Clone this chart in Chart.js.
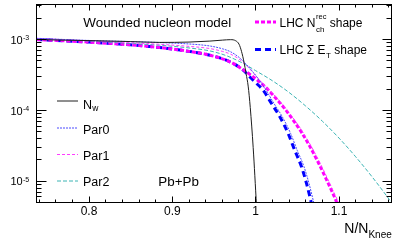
<!DOCTYPE html>
<html>
<head>
<meta charset="utf-8">
<script src="https://cdn.jsdelivr.net/npm/chart.js@4.4.1/dist/chart.umd.min.js"></script>
<style>
  html, body { margin: 0; padding: 0; background: #fff; }
  #plot { display: block; }
</style>
</head>
<body>
<canvas id="plot" width="399" height="243"></canvas>
<script>
// ── Data ──
const nwX = [0.737, 0.76, 0.80, 0.85, 0.885, 0.92, 0.945, 0.96, 0.970, 0.976, 0.980, 0.983, 0.986, 0.9885, 0.991, 0.9935, 0.997, 1.001];
const nwY = [1.0e-3, 9.85e-4, 9.65e-4, 9.35e-4, 9.1e-4, 9.2e-4, 9.5e-4, 9.8e-4, 9.95e-4, 9.6e-4, 8.6e-4, 6.8e-4, 4.8e-4, 3.3e-4, 2.2e-4, 1.1e-4, 3.0e-5, 4.5e-6];

const par0X = [0.737, 0.80, 0.85, 0.885, 0.92, 0.945, 0.96, 0.97, 0.98, 0.988, 0.997, 1.005, 1.0125, 1.022, 1.032, 1.042, 1.050, 1.058, 1.064, 1.069, 1.074];
const par0Y = [1.04e-3, 9.7e-4, 9.35e-4, 9.05e-4, 8.65e-4, 8.1e-4, 7.4e-4, 6.7e-4, 5.6e-4, 4.55e-4, 3.45e-4, 2.6e-4, 1.92e-4, 1.25e-4, 8.1e-5, 4.7e-5, 2.7e-5, 1.6e-5, 9.3e-6, 5.4e-6, 3.2e-6];

const par1X = [0.737, 0.80, 0.85, 0.885, 0.92, 0.945, 0.96, 0.97, 0.98, 0.988, 0.997, 1.007, 1.017, 1.027, 1.037, 1.047, 1.057, 1.067, 1.077, 1.087, 1.095, 1.101, 1.106];
const par1Y = [1.03e-3, 9.6e-4, 9.0e-4, 8.55e-4, 8.0e-4, 7.45e-4, 6.8e-4, 6.2e-4, 5.3e-4, 4.4e-4, 3.4e-4, 2.5e-4, 1.9e-4, 1.42e-4, 1.03e-4, 7.2e-5, 4.85e-5, 3.05e-5, 1.83e-5, 1.04e-5, 6.5e-6, 4.6e-6, 3.4e-6];

const par2X = [0.737, 0.80, 0.85, 0.885, 0.92, 0.945, 0.965, 0.985, 1.00, 1.02, 1.04, 1.06, 1.08, 1.10, 1.12, 1.14, 1.16, 1.17];
const par2Y = [1.03e-3, 9.5e-4, 8.8e-4, 8.3e-4, 7.6e-4, 6.9e-4, 5.9e-4, 4.6e-4, 3.63e-4, 2.62e-4, 1.79e-4, 1.15e-4, 7.03e-5, 4.06e-5, 2.21e-5, 1.14e-5, 5.58e-6, 3.82e-6];

const nchX = [0.737, 0.77, 0.80, 0.85, 0.885, 0.92, 0.945, 0.969, 0.985, 0.995, 1.005, 1.015, 1.025, 1.035, 1.045, 1.055, 1.065, 1.075, 1.085, 1.092, 1.098, 1.103];
const nchY = [1.0e-3, 9.6e-4, 9.2e-4, 8.4e-4, 7.7e-4, 6.8e-4, 6.0e-4, 4.85e-4, 3.75e-4, 3.1e-4, 2.5e-4, 1.95e-4, 1.45e-4, 1.05e-4, 7.3e-5, 4.9e-5, 3.1e-5, 1.85e-5, 1.05e-5, 7.0e-6, 4.8e-6, 3.5e-6];

const etX = [0.737, 0.77, 0.80, 0.85, 0.885, 0.92, 0.945, 0.969, 0.985, 0.993, 1.001, 1.009, 1.019, 1.029, 1.039, 1.047, 1.055, 1.061, 1.066, 1.071];
const etY = [1.0e-3, 9.6e-4, 9.2e-4, 8.4e-4, 7.7e-4, 6.8e-4, 6.0e-4, 4.85e-4, 3.7e-4, 2.96e-4, 2.4e-4, 1.92e-4, 1.25e-4, 8.1e-5, 4.7e-5, 2.7e-5, 1.6e-5, 9.3e-6, 5.4e-6, 3.0e-6];

// ── Axes ──
const xRange = [0.737, 1.163];
const yRange = [5e-6, 3.12e-3];
const xMajorTicks = [0.8, 0.9, 1.0, 1.1];
const xTickLabels = ['0.8', '0.9', '1', '1.1'];
const xMinorStep = 0.02;
const yMajorTicks = [1e-5, 1e-4, 1e-3];
const yTickExponents = ['-5', '-4', '-3'];

const FONT = "'Liberation Sans', Arial, Helvetica, sans-serif";

function pts(xs, ys) {
  return xs.map((x, i) => ({ x, y: ys[i] }));
}

function series(label, xs, ys, color, width, dash) {
  return {
    label,
    data: pts(xs, ys),
    borderColor: color,
    borderWidth: width,
    borderDash: dash,
    pointRadius: 0,
    fill: false,
    cubicInterpolationMode: 'monotone',
    clip: 0,
  };
}

const datasets = [
  series('Nw', nwX, nwY, '#1e1e1e', 1, []),
  series('Par0', par0X, par0Y, '#4b4bff', 1, [2, 1]),
  series('Par1', par1X, par1Y, '#ff3cff', 1, [3, 2]),
  series('Par2', par2X, par2Y, '#3cb4b4', 1, [4, 2]),
  series('LHC Nch shape', nchX, nchY, '#ff00ff', 3, [4, 2]),
  series('LHC ET shape', etX, etY, '#0000ff', 3, [6, 4]),
];

function drawText(ctx, str, x, y, size, align) {
  ctx.font = `${size}px ${FONT}`;
  ctx.fillStyle = '#000';
  ctx.textAlign = align || 'left';
  ctx.textBaseline = 'alphabetic';
  ctx.fillText(str, x, y);
  return ctx.measureText(str).width;
}

function sample(ctx, ds, x0, x1, y) {
  ctx.save();
  ctx.strokeStyle = ds.borderColor;
  ctx.lineWidth = ds.borderWidth;
  ctx.setLineDash(ds.borderDash || []);
  ctx.beginPath();
  ctx.moveTo(x0, y);
  ctx.lineTo(x1, y);
  ctx.stroke();
  ctx.restore();
}

function tick(ctx, x0, y0, x1, y1) {
  ctx.beginPath();
  ctx.moveTo(x0, y0);
  ctx.lineTo(x1, y1);
  ctx.stroke();
}

// ── Frame, ticks, labels and legends (ROOT style) ──
const overlay = {
  id: 'overlay',
  afterDraw(chart) {
    const { ctx, chartArea: a } = chart;
    const xs = chart.scales.x, ys = chart.scales.y;
    const L = a.left, R = a.right, T = a.top, B = a.bottom;
    ctx.save();
    ctx.strokeStyle = '#000';
    ctx.lineWidth = 1;
    ctx.setLineDash([]);
    ctx.strokeRect(L, T, R - L, B - T);

    // x ticks, bottom and top, pointing inward
    const first = Math.ceil(xRange[0] / xMinorStep - 1e-9);
    for (let i = first; i * xMinorStep <= xRange[1] + 1e-9; i++) {
      const px = Math.floor(xs.getPixelForValue(i * xMinorStep)) + 0.5;
      const len = i % 5 === 0 ? 6 : 3;
      tick(ctx, px, B, px, B - len);
      tick(ctx, px, T, px, T + len);
    }

    // y ticks (log), left and right
    for (let e = -6; e <= -3; e++) {
      for (let m = 1; m <= 9; m++) {
        const v = m * Math.pow(10, e);
        if (v < yRange[0] || v > yRange[1]) continue;
        const py = Math.floor(ys.getPixelForValue(v)) + 0.5;
        const major = m === 1;
        tick(ctx, L, py, L + (major ? 10 : 5), py);
        tick(ctx, R, py, R - (major ? 9 : 5), py);
      }
    }

    // tick labels
    xMajorTicks.forEach((v, i) => {
      drawText(ctx, xTickLabels[i], xs.getPixelForValue(v), 214.5, 12, 'center');
    });
    yMajorTicks.forEach((v, i) => {
      const py = ys.getPixelForValue(v);
      drawText(ctx, '10', 22.7, py + 4.3, 11, 'right');
      drawText(ctx, yTickExponents[i], 23, py + 0.6, 7);
    });

    // x axis title N/N_Knee
    let w = drawText(ctx, 'N/N', 344.3, 232.7, 14);
    drawText(ctx, 'Knee', 344.3 + w, 238.3, 10);

    // texts
    drawText(ctx, 'Wounded nucleon model', 83.3, 27, 13.4);
    drawText(ctx, 'Pb+Pb', 158.3, 185.7, 13.4);

    // right legend
    sample(ctx, datasets[4], 255, 276, 22);
    let x0 = 279.5;
    w = drawText(ctx, 'LHC N', x0, 27, 12);
    const wr = drawText(ctx, 'rec', x0 + w + 0.5, 18.5, 7.5);
    const wc = drawText(ctx, 'ch', x0 + w + 0.5, 31.5, 8);
    drawText(ctx, ' shape', x0 + w + 0.5 + Math.max(wr, wc), 27, 12);

    sample(ctx, datasets[5], 255, 276, 49.5);
    w = drawText(ctx, 'LHC \u03A3 E', x0, 53.5, 12);
    const wt = drawText(ctx, 'T', x0 + w + 0.5, 57.5, 8);
    drawText(ctx, ' shape', x0 + w + 0.5 + wt, 53.5, 12);

    // left legend
    sample(ctx, datasets[0], 57, 78, 101);
    w = drawText(ctx, 'N', 83, 108.5, 12.5);
    drawText(ctx, 'w', 83 + w + 0.3, 111, 8.5);
    sample(ctx, datasets[1], 57, 78, 128);
    drawText(ctx, 'Par0', 83, 133.5, 12.5);
    sample(ctx, datasets[2], 57, 78, 154.5);
    drawText(ctx, 'Par1', 83, 159.5, 12.5);
    sample(ctx, datasets[3], 57, 78, 181);
    drawText(ctx, 'Par2', 83, 186, 12.5);

    ctx.restore();
  },
};

new Chart(document.getElementById('plot').getContext('2d'), {
  type: 'line',
  data: { datasets },
  options: {
    responsive: false,
    animation: false,
    layout: { padding: { left: 36.5, right: 7.5, top: 4.5, bottom: 40.5 } },
    plugins: { legend: { display: false }, tooltip: { enabled: false } },
    scales: {
      x: { type: 'linear', min: xRange[0], max: xRange[1], bounds: 'data', display: false },
      y: { type: 'logarithmic', min: yRange[0], max: yRange[1], bounds: 'data', display: false },
    },
  },
  plugins: [overlay],
});
</script>
</body>
</html>
